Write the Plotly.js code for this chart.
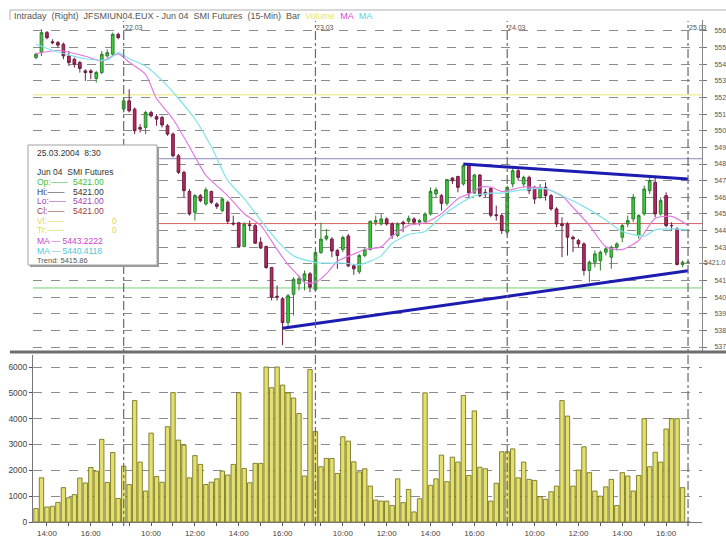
<!DOCTYPE html>
<html><head><meta charset="utf-8">
<script src="https://cdn.plot.ly/plotly-3.0.1.min.js"></script>
<style>html,body{margin:0;padding:0;background:#fff}#chart{width:726px;height:538px}</style>
</head><body><div id="chart"></div>
<script>
// sessions: day, first bar time, number of 15-min bars
const sessionDays   = ['19.03','22.03','23.03','24.03','25.03'];
const sessionStarts = ['13:30','08:45','08:45','08:45','08:30'];
const sessionBars   = [16,35,35,33,1];

const open = [5544,5547,5559,5553.5,5553,5552,5545,5543,5541,5536,5536,5531.5,5535,5545,5546,5558,
5513,5518,5513,5502,5502,5511,5508.5,5508,5503,5498,5485,5475,5463.5,5451,5461,5456,5463.5,5456,5452,5457,5444.5,5444.7,5430.4,5443.5,5443,5433,5430.4,5417.8,5400.5,5399,5384.7,5401.7,5408,5410.6,5414,
5404.4,5426.8,5435,5434.9,5428,5428.6,5436.7,5418.8,5415.2,5425,5428.6,5445,5444,5447,5444,5437,5445,5445.6,5447,5445,5445.6,5450,5462,5461,5456.4,5471.6,5472.5,5468,5479,5462.6,5473.4,5463,5465.3,5449.5,5449,
5439,5468,5476,5468,5472,5466,5460,5466,5461,5453,5444,5444,5436,5434,5432,5416,5421,5422,5427,5424,5430,5436,5444,5447,5437,5450,5464,5469,5450,5461,5443,5441,5419.6,
5421];
const high = [5547,5561,5560,5555,5554,5553,5548,5544,5542,5537,5537,5536,5548,5549,5559,5559,
5520,5525,5514,5504,5512,5512,5510,5509,5504,5499,5486,5476,5465,5462,5462,5466,5464,5457,5460,5458,5449,5445,5445,5446,5444,5436,5431,5418,5407,5400,5402,5412,5413,5416,5415,
5428,5444.7,5441,5436,5429,5437,5438,5420,5426,5430,5446,5449,5450,5448,5445,5445,5446,5449,5448,5447,5451,5466,5466,5462,5471,5472,5473,5480,5480,5474,5474,5465,5466,5455,5450,
5467,5478,5477,5473,5473,5467,5468,5469,5462,5454,5448,5445,5437,5435,5433,5422,5428,5428,5430,5431,5433,5444,5449,5462,5450,5467,5472,5472,5460,5463,5445,5442,5422,
5421];
const low = [5543,5545,5555,5552,5550,5543,5539,5538,5535,5530,5531,5529,5534,5544,5545,5555,
5511,5511,5498,5499,5498,5508,5503,5502,5497,5484,5474,5460,5449,5446,5457,5455,5456,5453,5451,5444,5443,5429.7,5430,5440,5432,5429,5417,5398,5398,5371,5382,5389,5404,5404,5403,
5404,5426,5434,5424,5417,5427,5418,5413.4,5414,5424,5428,5443,5443,5443,5435,5436,5439,5444,5444,5443,5445,5449,5460,5452,5455,5468,5463,5467,5460,5462,5460,5460,5448,5446,5438,
5437,5466,5470,5466,5462,5456,5459,5458,5452,5442,5424,5425,5427,5430,5413,5409,5418,5416,5425,5417,5428,5433,5442,5445,5435,5449,5462,5448,5449,5442,5440,5419,5418,
5421];
const close = [5546,5559,5556,5553,5551.5,5545,5541,5540,5537.5,5535,5535,5535,5546,5547,5558,5556,
5518,5512,5500,5501,5511,5509,5507,5503.5,5498,5485,5475,5464,5450,5461,5458,5464.5,5457,5454.5,5459,5445.6,5444,5430.4,5443.8,5443,5432.4,5429.5,5417.8,5400,5400,5384.7,5400.8,5410.7,5411,5414,5406,
5426.8,5434.9,5436.7,5427.7,5425,5435.8,5418.8,5417,5425,5428.6,5445.6,5446,5447,5444,5437,5444,5444,5447.4,5445,5446,5450,5463.5,5464.5,5456.4,5470.7,5470,5466,5479,5462.6,5473.4,5461,5462,5449.2,5449,5440,
5466,5476,5472,5472,5464,5459,5466,5461,5453,5444,5443,5436,5435,5432,5416,5421,5426,5427,5429,5430,5432,5443,5446,5460,5449,5465,5470,5450,5458,5443,5443,5419.6,5421,
5421];
const volume = [520,1710,580,610,760,1330,940,1060,1700,1510,2110,1970,3200,1530,2690,910,
2160,1450,4700,2320,1200,3440,1760,1540,3690,5010,3170,2980,1710,2570,2230,1450,1540,1670,1970,1820,2230,5000,2070,1520,2270,2270,6000,5200,6000,5300,5000,4800,4200,1780,5900,
3500,2140,2460,2460,1880,3300,3130,2330,1940,2060,1390,850,810,810,640,1670,750,1260,390,900,5000,1420,1670,2590,1560,2510,2320,4900,1800,4300,2120,2060,810,1500,2720,
2720,2830,1710,2320,1650,1610,980,880,1170,1390,4700,4100,1390,2010,2910,1910,1200,1000,1360,1650,640,1910,1780,1200,1800,4000,2140,2700,2320,3600,4000,4000,1330,
0];

// moving averages (bar index, value)
const ma9Idx = [0,4,9,12,15,17,20,22,25,28,30,31,35,38,41,44,46,48,49,51,53,55,58,60,63,65,68,71,74,77,80,81,83,85,89,93,96,98,101,104,107,110,113,116,119];
const ma9Val = [5546.2,5548.4,5544.8,5541.9,5546.2,5541.2,5533.9,5519.4,5507.1,5490.4,5478.6,5473.2,5460.9,5450.1,5443.1,5428.6,5419.5,5412.5,5408.7,5408.7,5414.1,5421.6,5425.9,5428.6,5430.2,5436.7,5443.1,5444.7,5450.1,5459.2,5463.5,5466.2,5466.2,5463.5,5466.2,5465.2,5460.9,5453.9,5443.1,5430.2,5428.6,5434,5447.4,5448.5,5443.2];
const ma17Idx = [0,3,9,13,15,17,20,23,26,29,32,35,38,41,44,47,50,52,56,59,61,63,65,68,71,74,77,80,83,85,89,93,96,100,104,107,111,113,116,119];
const ma17Val = [5552,5548.4,5543.3,5542.6,5547,5543.3,5539,5530.3,5519.4,5507.1,5490.4,5470,5459.2,5446.3,5434,5424.8,5421.6,5420.5,5420.5,5419.5,5421.6,5424.8,5432.4,5437.7,5439.4,5448.5,5455.5,5460.9,5462.5,5462.5,5464.6,5465.2,5460.9,5454.4,5446.3,5439.4,5436.7,5440.4,5441,5440.4];

// drawn trend lines and horizontal levels
const trendLowIdx = [45,119], trendLowVal = [5381.3,5415.9];
const trendHighIdx = [78,119], trendHighVal = [5480,5471];
const levelVals = [5521.6,5483.2,5444.2,5405.5];
const levelColors = ['#e8e870','#8a8ab8','#d86060','#70d070'];

// right-hand price labels as they are visible (cut at the right border)
const priceTicks = [5370,5380,5390,5400,5410,5420,5430,5440,5450,5460,5470,5480,5490,5500,5510,5520,5530,5540,5550,5560];
const priceTickText = ['537','538','539','540','541','','543','544','545','546','547','548','549','550','551','552','553','554','555','556'];
const volTicks = [0,1000,2000,3000,4000,5000,6000];
const lastPrice = 5421;

// build time categories
const times = [], sessionFirst = [];
sessionDays.forEach((d,k)=>{
  let [h,m] = sessionStarts[k].split(':').map(Number);
  sessionFirst.push(times.length);
  for(let j=0;j<sessionBars[k];j++){
    times.push(d+' '+String(h).padStart(2,'0')+':'+String(m).padStart(2,'0'));
    m+=15; if(m>=60){m-=60;h++;}
  }
});
const xt=[], xtt=[];
times.forEach(t=>{const hm=t.split(' ')[1]; if(hm.endsWith(':00')){xt.push(t); xtt.push(['10:00','12:00','14:00','16:00'].includes(hm)?hm:'');}});

const L=33,W=669,B=522,H=502;
const px=x=>(x-L)/W, py=y=>(B-y)/H;
const F='"Liberation Sans", Arial, sans-serif';

const traces = [
 {type:'candlestick', x:times, open:open, high:high, low:low, close:close, xaxis:'x', yaxis:'y',
  whiskerwidth:0, increasing:{line:{color:'#2f7f2f',width:1}, fillcolor:'#3bcc3b'},
  decreasing:{line:{color:'#6e1e44',width:1}, fillcolor:'#b8285e'}, hoverinfo:'skip', showlegend:false},
 {type:'scatter', mode:'lines', x:ma9Idx.map(i=>times[i]), y:ma9Val, line:{color:'#e07ae0',width:1.2,shape:'spline',smoothing:0.6}, xaxis:'x', yaxis:'y', hoverinfo:'skip', showlegend:false},
 {type:'scatter', mode:'lines', x:ma17Idx.map(i=>times[i]), y:ma17Val, line:{color:'#80e2ea',width:1.2,shape:'spline',smoothing:0.6}, xaxis:'x', yaxis:'y', hoverinfo:'skip', showlegend:false},
 {type:'scatter', mode:'lines', x:trendLowIdx.map(i=>times[i]), y:trendLowVal, line:{color:'#1c1cb0',width:3}, xaxis:'x', yaxis:'y', hoverinfo:'skip', showlegend:false},
 {type:'scatter', mode:'lines', x:trendHighIdx.map(i=>times[i]), y:trendHighVal, line:{color:'#1c1cb0',width:3}, xaxis:'x', yaxis:'y', hoverinfo:'skip', showlegend:false},
 {type:'bar', x:times, y:volume, xaxis:'x', yaxis:'y2', marker:{color:'#e4e070', line:{color:'#6a6814',width:0.8}}, hoverinfo:'skip', showlegend:false}
];

const shapes = [];
levelVals.forEach((v,k)=>shapes.push({type:'line',xref:'paper',yref:'y',x0:0,x1:1,y0:v,y1:v,line:{color:levelColors[k],width:1},layer:'below'}));
sessionFirst.slice(1).forEach(i=>shapes.push({type:'line',xref:'x',yref:'paper',x0:times[i],x1:times[i],y0:py(526),y1:py(21),line:{color:'#6a6a6a',width:1.2,dash:'dashdot'}}));
shapes.push({type:'line',xref:'paper',yref:'paper',x0:px(10),x1:px(726),y0:py(352),y1:py(352),line:{color:'#6e6e6e',width:3}});
shapes.push({type:'line',xref:'paper',yref:'paper',x0:px(10),x1:px(726),y0:py(10),y1:py(10),line:{color:'#b0b0b0',width:1}});
shapes.push({type:'line',xref:'paper',yref:'paper',x0:px(10),x1:px(10),y0:py(10),y1:py(20),line:{color:'#b0b0b0',width:1}});
// info box
shapes.push({type:'rect',xref:'paper',yref:'paper',x0:px(30),x1:px(159),y0:py(267),y1:py(147),fillcolor:'#9a9a9a',line:{width:0},layer:'above'});
shapes.push({type:'rect',xref:'paper',yref:'paper',x0:px(28),x1:px(157),y0:py(265),y1:py(145),fillcolor:'#ffffff',line:{color:'#a0a0a0',width:1},layer:'above'});

const ann = [];
const A=(x,y,t,c,s,anchor)=>ann.push({xref:'paper',yref:'paper',x:px(x),y:py(y),text:t,showarrow:false,xanchor:anchor||'left',yanchor:'middle',font:{family:F,size:s||8,color:c||'#333'}});
const sp='\u00a0\u00a0';
A(12,16,'Intraday'+sp+'(Right)'+sp+'JFSMIUN04.EUX - Jun 04'+sp+'SMI Futures'+sp+'(15-Min)'+sp+'Bar'+sp+'<span style="color:#e8e26a">Volume</span>'+sp+'<span style="color:#d84ad8">MA</span>'+sp+'<span style="color:#4fd6e2">MA</span>','#555',9);
sessionFirst.slice(1).forEach(i=>ann.push({xref:'x',yref:'paper',x:times[i],y:py(27.5),text:times[i].split(' ')[0],showarrow:false,xanchor:'left',xshift:-1,yanchor:'middle',font:{family:F,size:7,color:'#555'}}));
A(35,153,'25.03.2004'+sp+'8:30','#333',8.5);
A(35,172,'Jun 04'+sp+'SMI Futures','#333',8.5);
const lr=[['Op:','#3cbf3c',182,'5421.00'],['Hi:','#333',191.5,'5421.00'],['Lo:','#a444b4',201,'5421.00'],['Cl:','#a23a3a',210.5,'5421.00']];
lr.forEach(r=>{A(35,r[2],r[0]+'\u2014\u2014',r[1],8.5);A(71,r[2],r[3],r[1],8.5);});
A(35,221,'Vl:\u2014\u2014','#e2d64e',8.5);A(110,221,'0','#e2d64e',8.5);
A(35,230.5,'Tr:\u2014\u2014','#e2d64e',8.5);A(110,230.5,'0','#e2d64e',8.5);
A(35,241,'MA \u2014 5443.2222','#c646cc',8.5);
A(35,251,'MA \u2014 5440.4118','#4cc6d6',8.5);
A(35,260.5,'Trend: 5415.86','#555',7.5);
ann.push({xref:'paper',yref:'y',x:px(702),y:lastPrice,text:lastPrice.toFixed(1),showarrow:false,xanchor:'left',yanchor:'middle',font:{family:F,size:7,color:'#555'}});

const layout = {
 width:726, height:538, margin:{l:33,r:24,t:20,b:16}, paper_bgcolor:'#fff', plot_bgcolor:'#fff',
 showlegend:false, hovermode:false, bargap:0.2,
 xaxis:{type:'category', categoryorder:'array', categoryarray:times, range:[-0.55,121.55], anchor:'y2',
   tickvals:xt, ticktext:xtt, ticks:'outside', ticklen:3, tickcolor:'#555', showgrid:false, showline:true, linecolor:'#777',
   tickfont:{family:F,size:8,color:'#444'}, rangeslider:{visible:false}, fixedrange:true},
 yaxis:{domain:[py(351),1], range:[5367.6,5566.6], side:'right', tickvals:priceTicks, ticktext:priceTickText,
   ticks:'outside', ticklen:4, tickcolor:'#777',
   showgrid:true, gridcolor:'#8c8c8c', griddash:'dash', gridwidth:1, zeroline:false, showline:true, linecolor:'#888',
   tickfont:{family:F,size:7,color:'#555'}, ticklabelstandoff:6},
 yaxis2:{domain:[0,py(355)], range:[0,6465], side:'left', tickvals:volTicks, ticks:'outside', ticklen:3, tickcolor:'#555',
   showgrid:true, gridcolor:'#8c8c8c', griddash:'dash', zeroline:false, showline:true, linecolor:'#777',
   tickfont:{family:F,size:8.5,color:'#444'}},
 shapes:shapes, annotations:ann
};
Plotly.newPlot('chart', traces, layout, {staticPlot:true, displayModeBar:false});
</script></body></html>
